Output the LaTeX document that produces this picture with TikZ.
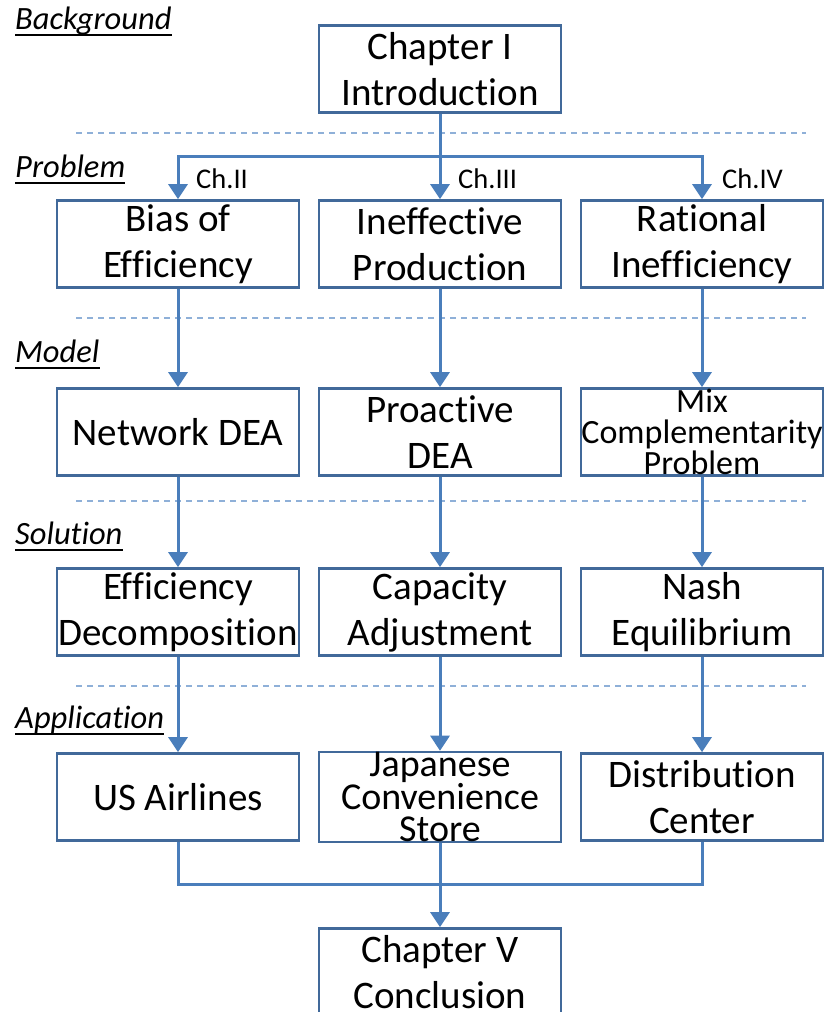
\documentclass[tikz,border=0pt]{standalone}
\usepackage{fontspec}
\setmainfont{Carlito}[Ligatures={NoCommon}]
\usetikzlibrary{arrows.meta,calc}
\definecolor{boxc}{HTML}{41699A}
\definecolor{linec}{HTML}{4A7EBB}
\definecolor{dashc}{HTML}{8FB0D8}
\begin{document}
\begin{tikzpicture}[x=1pt,y=-1pt,
 box/.style={draw=boxc, line width=2.6pt, minimum width=242pt, minimum height=87pt, inner sep=0pt, align=center, font=\fontsize{39}{46}\selectfont},
 mixbox/.style={box, font=\fontsize{34}{31}\selectfont},
 japbox/.style={box, font=\fontsize{38}{32}\selectfont},
 conn/.style={draw=linec, line width=3pt, -{Triangle[length=15pt,width=19pt]}},
 plainline/.style={draw=linec, line width=3pt},
 sepline/.style={draw=dashc, line width=1.2pt, dash pattern=on 6pt off 5pt},
 sec/.style={anchor=base west, font=\fontsize{32.5}{36}\selectfont\itshape, inner sep=0pt},
 chlab/.style={anchor=west, font=\fontsize{28.5}{32}\selectfont, inner sep=0pt},
 uline/.style={draw=black, line width=1.3pt}]
\useasboundingbox (0,0) rectangle (827,1012);

% separators
\coordinate (d1a) at (76,133);  \coordinate (d1b) at (806,133);
\coordinate (d2a) at (76,318);  \coordinate (d2b) at (806,318);
\coordinate (d3a) at (76,501);  \coordinate (d3b) at (806,501);
\coordinate (d4a) at (76,686);  \coordinate (d4b) at (806,686);
\draw[sepline] (d1a) -- (d1b);
\draw[sepline] (d2a) -- (d2b);
\draw[sepline] (d3a) -- (d3b);
\draw[sepline] (d4a) -- (d4b);

% section labels
\node[sec] (lb) at (15,29) {Background};
\node[sec] (lp) at (15,177) {Problem};
\node[sec] (lm) at (15,362) {Model};
\node[sec] (ls) at (15,544) {Solution};
\node[sec] (la) at (15,728) {Application};
\foreach \n in {lb,lp,lm,ls,la}{
  \draw[uline] ($(\n.base west)+(0,6)$) -- ($(\n.base east)+(0,6)$);
}

% boxes
\node[box] (ch1) at (440,69) {Chapter I\\Introduction};
\node[box] (bias) at (178,244) {Bias of\\Efficiency};
\node[box] (ineff) at (440,244) {Ineffective\\Production};
\node[box] (rat) at (702,244) {Rational\\Inefficiency};
\node[box] (net) at (178,432) {Network DEA};
\node[box] (pro) at (440,432) {Proactive\\DEA};
\node[mixbox] (mix) at (702,432) {Mix\\Complementarity\\Problem};
\node[box] (effd) at (178,612) {Efficiency\\Decomposition};
\node[box] (cap) at (440,612) {Capacity\\Adjustment};
\node[box] (nash) at (702,612) {Nash\\Equilibrium};
\node[box] (usa) at (178,797) {US Airlines};
\node[japbox] (jap) at (440,797) {Japanese\\Convenience\\Store};
\node[box] (dist) at (702,797) {Distribution\\Center};
\node[box] (ch5) at (440,972) {Chapter V\\Conclusion};

% chapter labels
\node[chlab] (c2) at (196,179) {Ch.II};
\node[chlab] (c3) at (458,179) {Ch.III};
\node[chlab] (c4) at (722,179) {Ch.IV};

% connectors
\coordinate (s1) at (440,156);
\draw[conn] (ch1) -- (ineff);
\draw[conn] (s1) -| (bias);
\draw[conn] (s1) -| (rat);
\draw[conn] (bias) -- (net);
\draw[conn] (ineff) -- (pro);
\draw[conn] (rat) -- (mix);
\draw[conn] (net) -- (effd);
\draw[conn] (pro) -- (cap);
\draw[conn] (mix) -- (nash);
\draw[conn] (effd) -- (usa);
\draw[conn] (cap) -- (jap);
\draw[conn] (nash) -- (dist);
\coordinate (m1) at (440,884);
\draw[plainline] (usa.south) |- (m1) -| (dist.south);
\draw[conn] (jap) -- (ch5);
\end{tikzpicture}
\end{document}
